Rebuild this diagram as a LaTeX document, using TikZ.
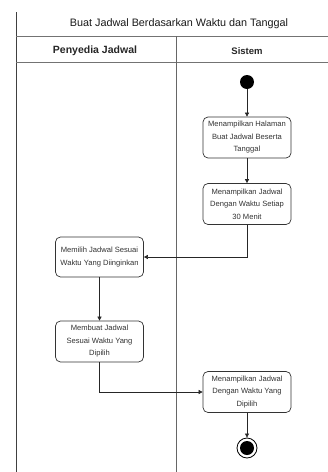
\documentclass[tikz,border=0pt]{standalone}
\usepackage{fontspec}
\setmainfont{Liberation Sans}
\usetikzlibrary{arrows.meta}
\begin{document}
\begin{tikzpicture}[x=1pt,y=-1pt,
  lane/.style={draw=black!75,line width=0.8pt},
  act/.style={draw=black!80,line width=0.7pt,rounded corners=5pt,fill=white,
    minimum width=88pt,minimum height=41pt,align=center,
    font=\fontsize{7.6}{12.5}\selectfont,text=black!80,inner sep=1pt},
  flow/.style={draw=black!85,line width=0.6pt,-{Triangle[length=4pt,width=4pt]}},
  hdr/.style={font=\fontsize{10.5}{12}\selectfont\bfseries,text=black!85}]
\useasboundingbox (0,0) rectangle (328,472);
% pool lines
\draw[lane] (16,12) -- (16,472);
\draw[lane,draw=black!55] (16,36) -- (328,36);
\draw[lane,draw=black!55] (16,62) -- (328,62);
\draw[lane,draw=black!60] (176,36) -- (176,472);
\node[font=\fontsize{10.8}{12}\selectfont,text=black!90] (title) at (179,24) {Buat Jadwal Berdasarkan Waktu dan Tanggal};
\node[hdr] (h1) at (95,51) {Penyedia Jadwal};
\node[hdr,font=\fontsize{9.5}{12}\selectfont\bfseries] (h2) at (247,51) {Sistem};
% nodes
\node[circle,fill=black,minimum size=14pt,inner sep=0pt] (start) at (247,82) {};
\node[act] (b1) at (247,137.5) {Menampilkan Halaman\\Buat Jadwal Beserta\\Tanggal};
\node[act] (b2) at (247,204) {Menampilkan Jadwal\\Dengan Waktu Setiap\\30 Menit};
\node[act,minimum height=40pt] (b3) at (99.5,257) {Memilih Jadwal Sesuai\\Waktu Yang Diinginkan};
\node[act] (b4) at (99.5,341.5) {Membuat Jadwal\\Sesuai Waktu Yang\\Dipilih};
\node[act] (b5) at (247,392) {Menampilkan Jadwal\\Dengan Waktu Yang\\Dipilih};
\node[circle,draw=black,line width=0.8pt,fill=white,minimum size=20pt,inner sep=0pt] (endo) at (247,448) {};
\node[circle,fill=black,minimum size=14pt,inner sep=0pt] (endi) at (endo) {};
% flows
\draw[flow] (start) -- (b1);
\draw[flow] (b1) -- (b2);
\draw[flow] (b2.south) |- (b3.east);
\draw[flow] (b3) -- (b4);
\draw[flow] (b4.south) |- (b5.west);
\draw[flow] (b5) -- (endo);
\end{tikzpicture}
\end{document}
